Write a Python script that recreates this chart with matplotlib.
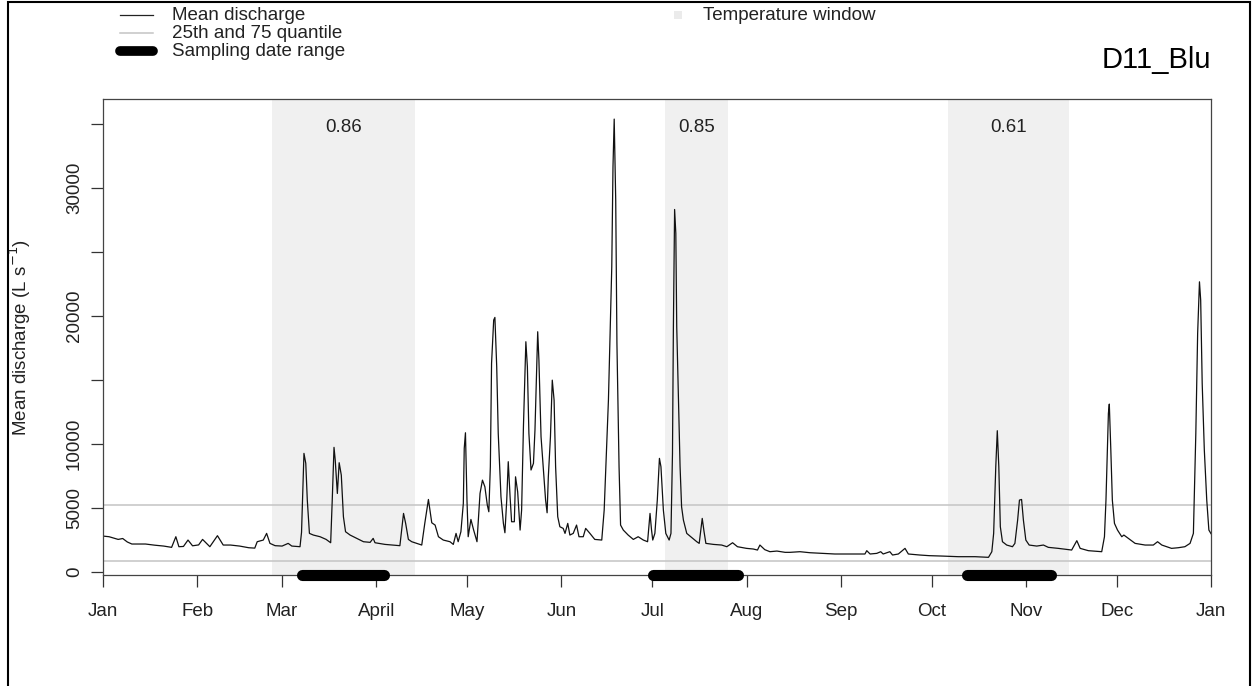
import matplotlib
matplotlib.use('Agg')
import matplotlib.pyplot as plt
from matplotlib.lines import Line2D
from matplotlib.patches import Rectangle

plt.rcParams['font.family'] = ['Liberation Sans', 'DejaVu Sans']

# day of year and mean daily discharge (L/s)
day = [0, 2, 5, 6.5, 8, 9.5, 14, 17, 20, 22.6, 24, 25, 26.5, 28, 29.5, 31.5, 32.8, 35.2, 37.7,
       39.6, 42, 45, 48, 50, 50.8, 52.8, 53.9, 55, 56.7, 59, 61, 62.2, 64.9, 65.4, 66.2, 66.8,
       67.3, 68, 69.3, 71.5, 73.5, 75, 75.5, 76.1, 76.5, 77.2, 77.8, 78.5, 79.2, 79.9, 81.4,
       83.6, 85.8, 88, 89, 89.6,
       92.9, 97.8, 99.0, 99.7, 100.6, 101.7, 103.3, 105, 106, 107.2, 108.3, 109.4, 110.5, 112.1,
       114.3, 115.4, 116.3, 117, 117.9, 118.7, 119.0, 119.4, 119.9, 120.3, 121.2, 122.1, 123.2,
       124.2, 125, 125.8, 126.6, 127.1, 127.6, 128, 128.7, 129.1, 129.7, 130.2, 131.1, 131.9,
       132.4, 133, 133.5, 134.1, 134.6, 135.5, 135.9, 136.6, 137.4, 137.9, 138.5, 139.3, 139.8,
       140.3, 141, 141.8, 142.3, 142.9, 143.2, 143.6, 144.3, 145, 145.8, 146.3, 146.7, 147.4,
       148, 148.6, 149.1, 149.8, 150.5, 151.6, 152.2, 153.1, 153.8, 154.9, 156, 156.8, 158.2,
       159, 160.4, 162, 164.3, 165.1, 166.5, 167.6, 168, 168.4, 168.9, 169.3, 170, 170.5, 171.4,
       173, 174.7, 176.3, 178, 179.4, 180.2, 180.7,
       181.1, 181.8, 182.6, 183.3, 183.8, 184.6, 185.4, 186.5, 187.1, 187.6, 187.9, 188.3,
       188.7, 189, 189.5, 190.1, 190.6, 191.2, 192.3, 193.9, 195.6, 196.4, 197, 197.4, 198,
       198.6, 201.1, 203.8, 205.5, 207.4, 209, 212, 214.2, 215.6, 216.4, 218, 219.7, 222, 224.7,
       226.3, 229.6, 232.9, 237.3, 241.1, 245, 251, 251.6, 252.7, 254.9, 256.2, 257, 259.2,
       260.1, 262, 264.2, 265.3, 269.1, 272.2,
       276.3, 281.8, 287.3, 291.7, 292.8, 293.4, 294.1, 294.6, 295.1, 295.6, 296.3, 297.7,
       299.6, 300.4, 301.3, 301.9, 302.6, 303.2, 304, 305.1, 307.6, 309.8, 311.4, 314.7, 319.1,
       320.8, 321.9, 324.6, 329, 329.9, 330.4, 331.2, 331.5, 332, 332.5, 333.2, 334.2, 335.6,
       336.3, 337.8, 340, 343.3, 346, 347.4, 348.8, 352, 354.2, 356.4, 358.1, 359.2, 360, 360.6,
       361.2, 361.6, 362.1, 362.8, 363.6, 364.3, 365]
discharge = [2810, 2760, 2550, 2620, 2350, 2190, 2190, 2100, 2030, 1930, 2760, 1980, 2000, 2500,
             2050, 2120, 2550, 1980, 2840, 2110, 2110, 2030, 1900, 1870, 2370, 2500, 3020, 2240,
             2060, 2030, 2240, 2030, 1980, 3100, 9270, 8490, 5620, 3020, 2890, 2760, 2550, 2290,
             5500, 9740, 8750, 6140, 8540, 7570, 4320, 3150, 2890, 2630, 2370, 2320, 2630, 2290,
             2160, 2060, 4580, 3800, 2550, 2370, 2240, 2110, 3800, 5670, 3850, 3670, 2760, 2500,
             2370, 2160, 3020, 2370, 3150, 5360, 9660, 10880, 5620, 2760, 4110, 3280, 2370,
             6140, 7180, 6660, 5230, 4710, 8230, 16300, 19680, 19890, 16030, 10830, 5880, 3800,
             3070, 5620, 8620, 5880, 3930, 3930, 7440, 6270, 3280, 4840, 11350, 17990, 16030,
             10830, 7970, 8490, 11090, 16300, 18770, 16560, 10570, 8230, 5620, 4630, 7440, 10570,
             14990, 13430, 8230, 4320, 3540, 3410, 3020, 3800, 2890, 3020, 3670, 2760, 2760,
             3410, 3020, 2550, 2500, 4840, 13430, 23840, 31650, 35380, 29050, 17860, 8230, 3670,
             3280, 2890, 2550, 2760, 2500, 2370, 4580, 3280,
             2500, 3020, 5620, 8880, 8230, 4840, 3020, 2500, 3020, 9270, 19160, 28320, 26450,
             19160, 14210, 8230, 5100, 4060, 3020, 2710, 2370, 2240, 3410, 4190, 3150, 2240, 2160,
             2110, 1980, 2290, 1980, 1850, 1800, 1720, 2110, 1750, 1590, 1640, 1540, 1540, 1590,
             1510, 1460, 1410, 1410, 1410, 1670, 1410, 1460, 1590, 1410, 1590, 1330, 1410, 1850,
             1410, 1330, 1280,
             1250, 1200, 1200, 1150, 1590, 3020, 8230, 11040, 8230, 3540, 2370, 2110, 1980, 2240,
             4060, 5620, 5670, 4060, 2500, 2110, 2030, 2110, 1930, 1850, 1720, 2450, 1850, 1670,
             1590, 2760, 5620, 12390, 13120, 9530, 5620, 3800, 3280, 2760, 2890, 2630, 2240, 2110,
             2110, 2370, 2110, 1850, 1900, 1980, 2240, 3020, 10830, 18640, 22670, 21240, 14730,
             9530, 5620, 3280, 3000]

q25 = 840
q75 = 5212

temp_windows = [(55.8, 102.8), (185.1, 206.0), (278.3, 318.3)]
temp_r = ['0.86', '0.85', '0.61']
sampling = [(65.4, 92.7), (181.3, 209.1), (284.6, 312.3)]

month_pos = [0, 31, 59, 90, 120, 151, 181, 212, 243, 273, 304, 334, 365]
month_lab = ['Jan', 'Feb', 'Mar', 'April', 'May', 'Jun', 'Jul', 'Aug', 'Sep', 'Oct', 'Nov', 'Dec', 'Jan']
ytick_pos = [0, 5000, 10000, 15000, 20000, 25000, 30000, 35000]
ytick_lab = ['0', '5000', '10000', '', '20000', '', '30000', '']

W, H = 1257, 686
fig = plt.figure(figsize=(W / 100, H / 100), dpi=100)


def fx(x):
    return x / W


def fy(y):
    return 1 - y / H


ax = fig.add_axes([fx(103), fy(575), fx(1211) - fx(103), fy(99) - fy(575)])

for (a, b), r in zip(temp_windows, temp_r):
    ax.axvspan(a, b, color='#f0f0f0', lw=0, zorder=0)
    ax.text((a + b) / 2, 34750, r, ha='center', va='center', fontsize=13.5, color='#222222')

ax.axhline(q25, color='#c4c4c4', lw=1.1, zorder=1)
ax.axhline(q75, color='#c4c4c4', lw=1.1, zorder=1)
ax.plot(day, discharge, color='#111111', lw=0.9, zorder=2)

ymin, ymax = -230, 36950
for a, b in sampling:
    ax.plot([a, b], [ymin, ymin], color='black', lw=8, solid_capstyle='round',
            clip_on=False, zorder=5)

ax.set_xlim(0, 365)
ax.set_ylim(ymin, ymax)
ax.set_xticks(month_pos)
ax.set_xticklabels(month_lab)
ax.set_yticks(ytick_pos)
ax.set_yticklabels(ytick_lab, rotation=90, va='center')
ax.tick_params(axis='both', direction='out', length=8.5, width=0.9, color='#333333',
               labelsize=13.5, labelcolor='#222222')
ax.tick_params(axis='x', pad=12)
ax.tick_params(axis='y', pad=6)
for s in ax.spines.values():
    s.set_color('#444444')
    s.set_linewidth(0.9)
ax.set_ylabel('Mean discharge (L s$^{-1}$)', fontsize=13.5, color='#222222')
ax.yaxis.set_label_coords((33 - 103) / 1108, 0.5)

# legend, drawn in figure pixel positions
rows = [15, 33, 51]
fig.add_artist(Line2D([fx(120), fx(153)], [fy(rows[0])] * 2, transform=fig.transFigure,
                      color='#222222', lw=0.9))
fig.add_artist(Line2D([fx(120), fx(153)], [fy(rows[1])] * 2, transform=fig.transFigure,
                      color='#c4c4c4', lw=1.1))
fig.add_artist(Line2D([fx(120), fx(153)], [fy(rows[2])] * 2, transform=fig.transFigure,
                      color='black', lw=7, solid_capstyle='round'))
for yy, t in zip(rows, ['Mean discharge', '25th and 75 quantile', 'Sampling date range']):
    fig.text(fx(172), fy(yy), t, ha='left', va='center', fontsize=13.5, color='#222222')
fig.add_artist(Rectangle((fx(674), fy(rows[0] + 4)), fx(8), 8 / H, transform=fig.transFigure,
                         color='#ebebeb', lw=0))
fig.text(fx(703), fy(rows[0]), 'Temperature window', ha='left', va='center', fontsize=13.5,
         color='#222222')
fig.text(fx(1211), fy(74), 'D11_Blu', ha='right', va='bottom', fontsize=21, color='black')

# outer frame
fig.add_artist(Rectangle((fx(8), fy(700)), fx(1250) - fx(8), (700 - 2) / H,
                         transform=fig.transFigure, fill=False, ec='black', lw=1.5))

fig.savefig('out.png', dpi=100)
